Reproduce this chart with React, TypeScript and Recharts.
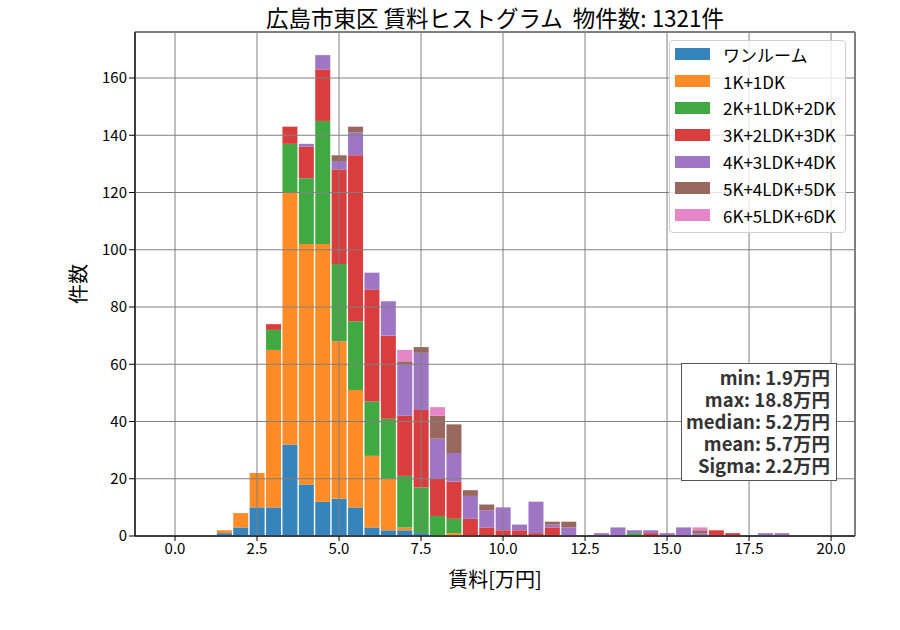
import React from "react";
import {
  Bar,
  BarChart,
  CartesianGrid,
  Label,
  Legend,
  ReferenceArea,
  XAxis,
  YAxis,
} from "recharts";

// bin centres in 万円 (0.5 wide)
const bins = [
  1.5, 2.0, 2.5, 3.0, 3.5, 4.0, 4.5, 5.0, 5.5, 6.0, 6.5, 7.0, 7.5, 8.0, 8.5, 9.0, 9.5, 10.0,
  10.5, 11.0, 11.5, 12.0, 12.5, 13.0, 13.5, 14.0, 14.5, 15.0, 15.5, 16.0, 16.5, 17.0, 17.5,
  18.0, 18.5,
];

// counts per bin, one array per layout
const oneRoom = [1, 3, 10, 10, 32, 18, 12, 13, 10, 3, 2, 2, 1, 0, 0, 0, 0, 0, 0, 0, 0, 0, 0, 0, 0, 0, 0, 0, 0, 0, 0, 0, 0, 0, 0];
const k1 = [1, 5, 12, 55, 88, 84, 90, 55, 41, 25, 18, 1, 0, 0, 1, 0, 0, 0, 0, 0, 0, 0, 0, 0, 0, 0, 0, 0, 0, 0, 0, 0, 0, 0, 0];
const k2 = [0, 0, 0, 7, 17, 23, 43, 27, 24, 19, 21, 18, 16, 7, 5, 0, 0, 0, 0, 0, 0, 0, 0, 0, 0, 1, 0, 0, 0, 0, 0, 0, 0, 0, 0];
const k3 = [0, 0, 0, 2, 6, 11, 18, 33, 58, 39, 29, 21, 27, 13, 13, 6, 3, 2, 2, 1, 3, 0, 0, 0, 0, 0, 1, 0, 0, 0, 2, 1, 0, 0, 0];
const k4 = [0, 0, 0, 0, 0, 1, 5, 3, 8, 6, 12, 18, 20, 14, 10, 8, 6, 8, 2, 11, 1, 3, 0, 1, 3, 1, 1, 1, 3, 1, 0, 0, 0, 1, 1];
const k5 = [0, 0, 0, 0, 0, 0, 0, 2, 2, 0, 0, 1, 2, 8, 10, 2, 2, 0, 0, 0, 1, 2, 0, 0, 0, 0, 0, 0, 0, 1, 0, 0, 0, 0, 0];
const k6 = [0, 0, 0, 0, 0, 0, 0, 0, 0, 0, 0, 4, 0, 3, 0, 0, 0, 0, 0, 0, 0, 0, 0, 0, 0, 0, 0, 0, 0, 1, 0, 0, 0, 0, 0];

const xTicks = [0, 2.5, 5, 7.5, 10, 12.5, 15, 17.5, 20];
const yTicks = [0, 20, 40, 60, 80, 100, 120, 140, 160];

const statLines = [
  "min: 1.9万円",
  "max: 18.8万円",
  "median: 5.2万円",
  "mean: 5.7万円",
  "Sigma: 2.2万円",
];

const X_MIN = -1.22;
const X_MAX = 20.73;
const Y_MAX = 176.07;

const FONT = '"Noto Sans CJK JP", "Noto Sans", sans-serif';

const series = [
  { key: "oneRoom", name: "ワンルーム", color: "#3584bc", values: oneRoom },
  { key: "k1", name: "1K+1DK", color: "#ff8c26", values: k1 },
  { key: "k2", name: "2K+1LDK+2DK", color: "#41a941", values: k2 },
  { key: "k3", name: "3K+2LDK+3DK", color: "#da3d3d", values: k3 },
  { key: "k4", name: "4K+3LDK+4DK", color: "#9f76c4", values: k4 },
  { key: "k5", name: "5K+4LDK+5DK", color: "#98675d", values: k5 },
  { key: "k6", name: "6K+5LDK+6DK", color: "#e685c8", values: k6 },
];

const data = bins.map((x, i) => {
  const row: Record<string, number> = { x };
  series.forEach((s) => (row[s.key] = s.values[i]));
  return row;
});

function LegendBox() {
  return (
    <div
      style={{
        border: "1px solid #d0d0d0",
        borderRadius: 4,
        background: "rgba(255,255,255,0.8)",
        padding: "0 9px 3px 5px",
        fontFamily: FONT,
        fontSize: 17,
        color: "#000",
      }}
    >
      {series.map((s) => (
        <div key={s.key} style={{ display: "flex", alignItems: "center", height: 26.8 }}>
          <span style={{ width: 35, height: 12, background: s.color, marginRight: 13 }} />
          <span>{s.name}</span>
        </div>
      ))}
    </div>
  );
}

// summary statistics box, drawn above the grid
function StatsBox() {
  return (
    <div
      style={{
        position: "absolute",
        left: 681,
        top: 363,
        width: 156,
        height: 118,
        boxSizing: "border-box",
        border: "1px solid #555",
        background: "#fff",
        padding: "2px 6px 0 0",
        textAlign: "right",
        fontFamily: FONT,
        fontSize: 18.5,
        fontWeight: "bold",
        lineHeight: "22px",
        color: "#333",
        whiteSpace: "nowrap",
      }}
    >
      {statLines.map((t) => (
        <div key={t}>{t}</div>
      ))}
    </div>
  );
}

export default function App() {
  return (
    <div style={{ position: "absolute", left: 0, top: 0, width: 900, height: 630, background: "#fff" }}>
      <BarChart
        width={900}
        height={630}
        data={data}
        margin={{ top: 32, right: 45, left: 0, bottom: 34 }}
        barCategoryGap="5%"
        style={{ fontFamily: FONT }}
      >
        <XAxis
          type="number"
          dataKey="x"
          domain={[X_MIN, X_MAX]}
          ticks={xTicks}
          allowDataOverflow
          tickFormatter={(v: number) => v.toFixed(1)}
          height={60}
          tickSize={5}
          stroke="#000"
          tick={{ fill: "#000", fontSize: 15 }}
        >
          <Label value="賃料[万円]" position="insideBottom" offset={9} fill="#000" fontSize={20} />
        </XAxis>
        <YAxis
          type="number"
          domain={[0, Y_MAX]}
          ticks={yTicks}
          allowDataOverflow
          width={135}
          tickSize={6}
          stroke="#000"
          tick={{ fill: "#000", fontSize: 15 }}
        >
          <Label value="件数" position="center" angle={-90} dx={11} fill="#000" fontSize={20} />
        </YAxis>
        {series.map((s) => (
          <Bar
            key={s.key}
            dataKey={s.key}
            name={s.name}
            stackId="rent"
            fill={s.color}
            isAnimationActive={false}
          />
        ))}
        <CartesianGrid stroke="#808080" strokeWidth={1} zIndex={400} />
        <ReferenceArea
          x1={X_MIN}
          x2={X_MAX}
          y1={0}
          y2={Y_MAX}
          fill="none"
          fillOpacity={0}
          stroke="#000"
          strokeWidth={1}
          ifOverflow="visible"
        />
        <Legend
          layout="horizontal"
          verticalAlign="middle"
          align="center"
          content={() => <LegendBox />}
          wrapperStyle={{ left: 669, top: 40, width: "auto" }}
        />
        <text
          x={495}
          y={26.5}
          textAnchor="middle"
          fontFamily={FONT}
          fontSize={22.5}
          fill="#000"
          style={{ whiteSpace: "pre" }}
        >
          {"広島市東区 賃料ヒストグラム  物件数: 1321件"}
        </text>
      </BarChart>
      <StatsBox />
    </div>
  );
}
